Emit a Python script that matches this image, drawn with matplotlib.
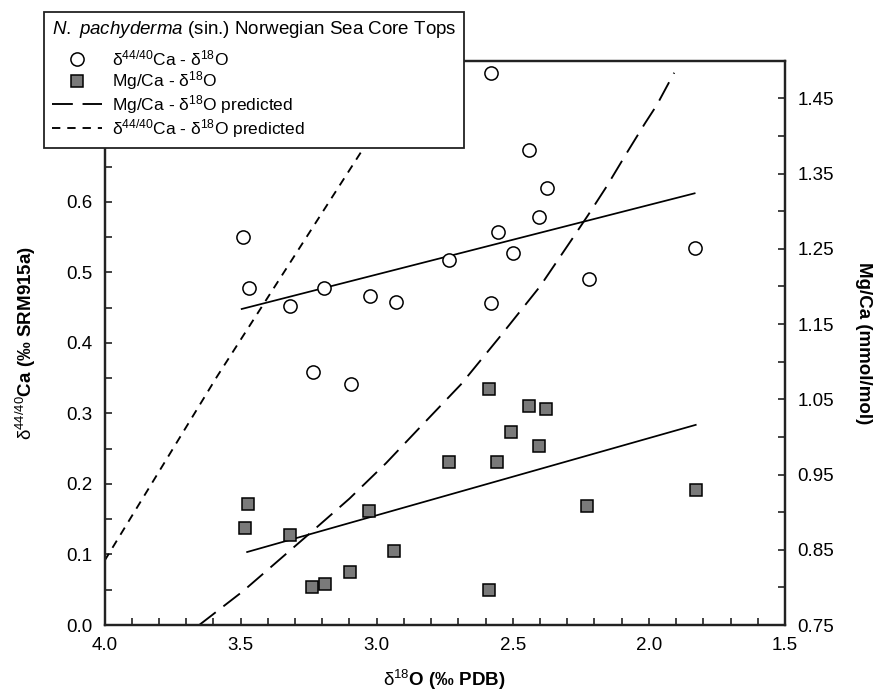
import matplotlib
matplotlib.use("Agg")
import matplotlib.pyplot as plt
from matplotlib.ticker import MultipleLocator, FixedLocator, FormatStrFormatter
from matplotlib.legend_handler import HandlerLine2D

# ---------------- data ----------------
# delta44/40Ca vs d18O (left axis)
ca_d18o = [3.49, 3.47, 3.32, 3.195, 3.235, 3.025, 3.095, 2.93, 2.735, 2.58,
           2.555, 2.50, 2.44, 2.405, 2.375, 2.58, 2.22, 1.83]
ca_vals = [0.550, 0.478, 0.452, 0.478, 0.359, 0.466, 0.342, 0.458, 0.517, 0.456,
           0.557, 0.527, 0.673, 0.579, 0.620, 0.783, 0.491, 0.534]

# Mg/Ca vs d18O (right axis)
mg_d18o = [3.483, 3.473, 3.317, 3.237, 3.189, 3.097, 3.027, 2.935, 2.733, 2.587,
           2.587, 2.559, 2.505, 2.442, 2.403, 2.377, 2.229, 1.828]
mg_vals = [0.879, 0.911, 0.869, 0.801, 0.804, 0.820, 0.901, 0.849, 0.967, 1.063,
           0.797, 0.967, 1.007, 1.0405, 0.988, 1.0365, 0.908, 0.929]

# regression lines (solid)
ca_fit_x = [3.496, 1.832]
ca_fit_y = [0.448, 0.612]
mg_fit_x = [3.476, 1.828]
mg_fit_y = [0.847, 1.016]

# predicted curves
ca_pred_x = [4.0, 3.587, 3.05, 2.85]
ca_pred_y = [0.091, 0.352, 0.675, 0.80]
mg_pred_x = [3.652, 3.491, 3.245, 3.10, 2.966, 2.835, 2.69, 2.55, 2.40, 2.284,
             2.223, 2.155, 2.082, 2.014, 1.971, 1.907]
mg_pred_y = [0.75, 0.795, 0.872, 0.918, 0.965, 1.015, 1.070, 1.132, 1.200, 1.262,
             1.295, 1.333, 1.377, 1.417, 1.441, 1.484]

x_ticks = [4.0, 3.5, 3.0, 2.5, 2.0, 1.5]
left_ticks = [0.0, 0.1, 0.2, 0.3, 0.4, 0.5, 0.6, 0.7, 0.8]
right_ticks = [0.75, 0.85, 0.95, 1.05, 1.15, 1.25, 1.35, 1.45]
right_minor = [0.80, 0.90, 1.00, 1.10, 1.20, 1.30, 1.40, 1.50]

D = r'\mathrm{\delta}'
legend_title = r'$\it{N.\ pachyderma}$ (sin.) Norwegian Sea Core Tops'
lab_ca = r'$%s^{44/40}$Ca - $%s^{18}$O' % (D, D)
lab_mg = r'Mg/Ca - $%s^{18}$O' % D
lab_mg_pred = r'Mg/Ca - $%s^{18}$O predicted' % D
lab_ca_pred = r'$%s^{44/40}$Ca - $%s^{18}$O predicted' % (D, D)

# ---------------- style ----------------
plt.rcParams['font.family'] = ['Liberation Sans', 'DejaVu Sans']
plt.rcParams['mathtext.fontset'] = 'custom'
plt.rcParams['mathtext.rm'] = 'Liberation Sans'
plt.rcParams['mathtext.it'] = 'Liberation Sans:italic'
plt.rcParams['mathtext.bf'] = 'Liberation Sans:bold'
plt.rcParams['lines.scale_dashes'] = False

W, H = 880, 692
fig = plt.figure(figsize=(W / 100, H / 100), dpi=100)
ax = fig.add_axes([104.5 / W, 1 - 625 / H, (785 - 104.5) / W, (625 - 60.7) / H])
ax2 = ax.twinx()

spine_lw = 1.6
for a in (ax, ax2):
    for s in a.spines.values():
        s.set_linewidth(spine_lw)
        s.set_color('#222222')

tick_font = 13.5
# primary axis
ax.set_xlim(4.0, 1.5)
ax.set_ylim(0.0, 0.8)
ax.xaxis.set_major_locator(FixedLocator(x_ticks))
ax.xaxis.set_minor_locator(MultipleLocator(0.1))
ax.yaxis.set_major_locator(FixedLocator(left_ticks))
ax.yaxis.set_minor_locator(MultipleLocator(0.05))
ax.xaxis.set_major_formatter(FormatStrFormatter('%.1f'))
ax.yaxis.set_major_formatter(FormatStrFormatter('%.1f'))
ax.tick_params(axis='both', which='both', direction='in', top=False, right=False,
               width=1.2, color='#222222')
ax.tick_params(axis='both', which='major', length=5, labelsize=tick_font, pad=9)
ax.tick_params(axis='both', which='minor', length=5)

# secondary axis
ax2.set_ylim(0.75, 1.50)
ax2.yaxis.set_major_locator(FixedLocator(right_ticks))
ax2.yaxis.set_minor_locator(FixedLocator(right_minor))
ax2.yaxis.set_major_formatter(FormatStrFormatter('%.2f'))
ax2.tick_params(axis='y', which='both', direction='in', width=1.2, color='#222222')
ax2.tick_params(axis='y', which='major', length=5, labelsize=tick_font, pad=9)
ax2.tick_params(axis='y', which='minor', length=5)

# ---------------- marks ----------------
short_dash = (0, (6.0, 5.0))
long_dash = (0, (15.0, 7.0))

ln_ca_pred, = ax.plot(ca_pred_x, ca_pred_y, color='black', lw=1.35,
                      linestyle=short_dash, label=lab_ca_pred)
ax.plot(ca_fit_x, ca_fit_y, color='black', lw=1.25)
pts_ca, = ax.plot(ca_d18o, ca_vals, linestyle='none', marker='o', markersize=9.5,
                  markerfacecolor='white', markeredgecolor='black',
                  markeredgewidth=1.1, label=lab_ca)

ln_mg_pred, = ax2.plot(mg_pred_x, mg_pred_y, color='black', lw=1.35,
                       linestyle=long_dash, label=lab_mg_pred)
ax2.plot(mg_fit_x, mg_fit_y, color='black', lw=1.25)
pts_mg, = ax2.plot(mg_d18o, mg_vals, linestyle='none', marker='s', markersize=8,
                   markerfacecolor='#7a7a7a', markeredgecolor='black',
                   markeredgewidth=1.1, label=lab_mg)

# ---------------- labels ----------------
lab_font = 13.5
ax.set_xlabel(r'$%s^{18}$O (‰ PDB)' % D, fontsize=lab_font, fontweight='bold',
              labelpad=10)
ax.set_ylabel(r'$%s^{44/40}$Ca (‰ SRM915a)' % D, fontsize=lab_font,
              fontweight='bold', labelpad=20)
ax2.set_ylabel('Mg/Ca (mmol/mol)', fontsize=lab_font, fontweight='bold',
               rotation=270, labelpad=27)


class LeftMarkerHandler(HandlerLine2D):
    def get_xdata(self, legend, xdescent, ydescent, width, height, fontsize):
        xdata, xmark = super().get_xdata(legend, xdescent, ydescent, width,
                                         height, fontsize)
        return xdata, [-xdescent + 0.12 * width]


leg = fig.legend([pts_ca, pts_mg, ln_mg_pred, ln_ca_pred],
                 [lab_ca, lab_mg, lab_mg_pred, lab_ca_pred],
                 loc='upper left', bbox_to_anchor=(44 / W, 1 - 11.5 / H),
                 bbox_transform=fig.transFigure, title=legend_title,
                 title_fontsize=13.5, fontsize=12.5, alignment='left',
                 frameon=True, fancybox=False, framealpha=1, edgecolor='#222222',
                 borderaxespad=0, borderpad=0.45, handlelength=2.9,
                 handletextpad=0.55, labelspacing=0.05, numpoints=1,
                 handler_map={pts_ca: LeftMarkerHandler(),
                              pts_mg: LeftMarkerHandler()})
leg._legend_box.sep = 6
leg.get_frame().set_linewidth(1.3)
leg.set_zorder(10)

fig.savefig('out.png', dpi=100)
